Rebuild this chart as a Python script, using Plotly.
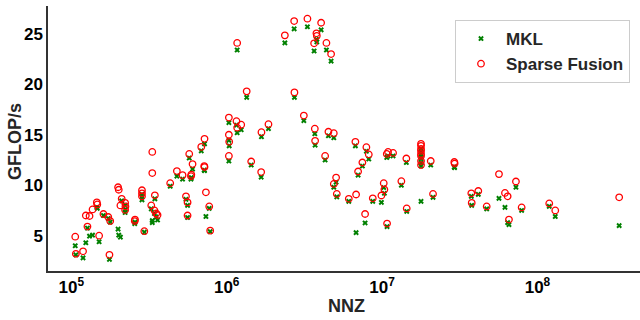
import plotly.graph_objects as go

nnz = [1.06e5, 1.07e5, 1.19e5, 1.24e5, 1.27e5, 1.31e5, 1.37e5, 1.46e5, 1.47e5, 1.51e5,
       1.61e5, 1.73e5, 1.78e5, 1.76e5, 2.0e5, 2.02e5, 2.07e5, 2.11e5, 2.22e5, 2.23e5,
       2.22e5, 2.57e5, 2.56e5, 2.85e5, 2.85e5, 2.85e5, 2.95e5, 3.27e5, 3.32e5, 3.32e5,
       3.43e5, 3.45e5, 3.52e5, 3.59e5, 4.33e5, 4.78e5, 5.2e5, 5.47e5, 5.6e5, 5.6e5,
       5.74e5, 5.89e5, 5.92e5, 6.03e5, 6.86e5, 7.2e5, 7.17e5, 7.2e5, 7.35e5, 7.72e5,
       7.83e5, 1.033e6, 1.033e6, 1.038e6, 1.033e6, 1.156e6, 1.168e6, 1.24e6, 1.168e6, 1.345e6,
       1.438e6, 1.667e6, 1.674e6, 1.857e6, 2.368e6, 2.718e6, 2.729e6, 3.137e6, 3.308e6, 3.653e6,
       3.78e6, 3.803e6, 4.053e6, 4.384e6, 4.699e6, 3.691e6, 3.708e6, 4.516e6, 4.89e6, 4.3e6,
       5.06e6, 4.89e6, 5.113e6, 6.107e6, 6.734e6, 6.805e6, 7.776e6, 7.01e6, 7.47e6, 7.926e6,
       8.213e6, 8.713e6, 1.025e7, 1.035e7, 9.9e6, 1.072e7, 1.093e7, 1.177e7, 1.077e7, 1.331e7,
       1.433e7, 1.441e7, 1.781e7, 1.781e7, 1.781e7, 1.781e7, 1.781e7, 1.781e7, 1.781e7, 1.781e7,
       2.057e7, 2.128e7, 2.917e7, 2.93e7, 3.752e7, 3.775e7, 4.162e7, 4.713e7, 5.655e7, 6.18e7,
       6.43e7, 6.556e7, 7.271e7, 7.913e7, 1.191e8, 1.302e8, 3.357e8]

sparse_fusion = [4.9, 3.2, 3.45, 7.0, 5.9, 6.95, 7.6, 8.3, 8.1, 5.0,
                 7.15, 6.85, 6.45, 3.1, 9.8, 9.55, 8.0, 8.65, 8.25, 7.9,
                 7.55, 6.6, 6.45, 9.5, 9.2, 8.9, 5.45, 8.0, 13.3, 11.2,
                 7.5, 9.0, 7.2, 7.05, 10.2, 11.4, 11.0, 8.9, 8.3, 7.0,
                 13.1, 10.9, 11.05, 12.1, 13.8, 14.6, 11.9, 11.8, 9.3, 7.9,
                 5.5, 16.7, 15.0, 14.3, 12.9, 16.35, 15.7, 16.0, 24.1, 19.3,
                 12.35, 11.3, 15.26, 16.05, 24.85, 26.27, 19.2, 16.9, 26.5, 24.06,
                 25.05, 24.8, 26.1, 24.1, 23.0, 15.6, 14.4, 15.3, 15.16, 12.9,
                 10.76, 10.13, 9.14, 8.65, 14.3, 9.08, 7.15, 11.36, 12.25, 13.77,
                 13.05, 8.7, 10.2, 9.57, 8.98, 13.1, 13.3, 13.2, 6.2, 10.4,
                 12.65, 7.7, 14.1, 13.9, 13.6, 13.4, 13.1, 12.9, 12.4, 12.0,
                 12.4, 9.14, 12.3, 12.15, 9.2, 8.25, 9.43, 7.9, 11.1, 9.24,
                 8.9, 6.6, 10.37, 7.8, 8.2, 7.5, 8.8]

mkl = [4.0, 3.1, 2.8, 4.3, 5.75, 4.95, 5.05, 7.8, 7.7, 4.4,
       7.0, 6.7, 6.35, 2.65, 5.65, 5.05, 4.85, 8.45, 8.0, 7.6,
       7.3, 6.35, 6.2, 9.1, 8.85, 8.55, 5.35, 7.65, 6.5, 6.3,
       7.2, 8.65, 6.85, 6.55, 9.9, 10.9, 10.6, 8.6, 8.0, 6.8,
       12.7, 10.6, 10.75, 11.6, 13.4, 14.1, 11.5, 11.45, 6.9, 7.7,
       5.4, 16.2, 14.45, 13.9, 12.4, 15.95, 15.2, 15.5, 23.4, 18.7,
       12.0, 10.8, 14.8, 15.6, 24.1, 25.5, 18.7, 16.4, 25.7, 23.3,
       24.45, 24.2, 25.4, 23.4, 22.3, 15.1, 13.97, 14.9, 14.7, 12.5,
       10.3, 9.8, 8.84, 8.4, 13.9, 5.3, 6.26, 11.0, 11.9, 13.37,
       12.6, 8.4, 9.77, 9.2, 8.3, 12.75, 12.9, 12.9, 5.9, 10.0,
       12.25, 7.4, 13.6, 13.3, 13.0, 12.8, 12.6, 12.2, 11.9, 8.4,
       12.0, 8.8, 11.8, 11.75, 8.9, 8.0, 9.1, 7.65, 8.7, 7.8,
       6.3, 6.1, 9.8, 7.5, 7.9, 6.9, 6.0]

x_tick_vals = [1e5, 1e6, 1e7, 1e8]
x_tick_text = ["10<sup>5</sup>", "10<sup>6</sup>", "10<sup>7</sup>", "10<sup>8</sup>"]
y_tick_vals = [5, 10, 15, 20, 25]

FONT = "Liberation Sans, Arial, sans-serif"
W, H = 640, 320
ML, MR, MT, MB = 48, 0, 6, 49

fig = go.Figure()
fig.add_trace(go.Scatter(
    x=nnz, y=mkl, mode="markers", name="MKL",
    marker=dict(symbol="x", size=5, color="#008000", line=dict(width=0)),
))
fig.add_trace(go.Scatter(
    x=nnz, y=sparse_fusion, mode="markers", name="Sparse Fusion",
    marker=dict(symbol="circle-open", size=6.5, color="#ff0000", line=dict(width=1.3)),
))

pw = W - ML - MR
ph = H - MT - MB

fig.update_layout(
    width=W, height=H,
    margin=dict(l=ML, r=MR, t=MT, b=MB),
    plot_bgcolor="white", paper_bgcolor="white",
    font=dict(family=FONT, color="black"),
    showlegend=True,
    legend=dict(
        x=(630 - ML) / pw, y=(H - MB - 20) / ph, xanchor="right", yanchor="top",
        bgcolor="white", bordercolor="#cccccc", borderwidth=1,
        font=dict(family=FONT, size=17, color="#262626", weight="bold"),
        tracegroupgap=0, itemwidth=40,
    ),
    annotations=[
        dict(text="NNZ", xref="paper", yref="paper",
             x=(346 - ML) / pw, y=-(306 - (H - MB)) / ph,
             xanchor="center", yanchor="middle", showarrow=False,
             font=dict(family=FONT, size=18, color="#262626", weight="bold")),
        dict(text="GFLOP/s", xref="paper", yref="paper",
             x=-(ML - 15) / pw, y=(H - MB - 142) / ph, textangle=-90,
             xanchor="center", yanchor="middle", showarrow=False,
             font=dict(family=FONT, size=18, color="#262626", weight="bold")),
    ],
)
fig.update_xaxes(
    type="log", range=[4.85, 8.66], automargin=False,
    tickvals=x_tick_vals, ticktext=x_tick_text,
    tickfont=dict(family=FONT, size=17, color="black", weight="bold"),
    showgrid=False, zeroline=False, ticks="",
    showline=True, linecolor="#333333", linewidth=1.5,
)
fig.update_yaxes(
    range=[1.5, 27.76], automargin=False,
    tickvals=y_tick_vals,
    tickfont=dict(family=FONT, size=17, color="black", weight="bold"),
    showgrid=False, zeroline=False, ticks="",
    showline=True, linecolor="#333333", linewidth=1.5,
)

fig.write_html(
    "out.html",
    config={"displayModeBar": False},
    post_script="document.body.style.margin='0';document.body.style.overflow='hidden';",
)
